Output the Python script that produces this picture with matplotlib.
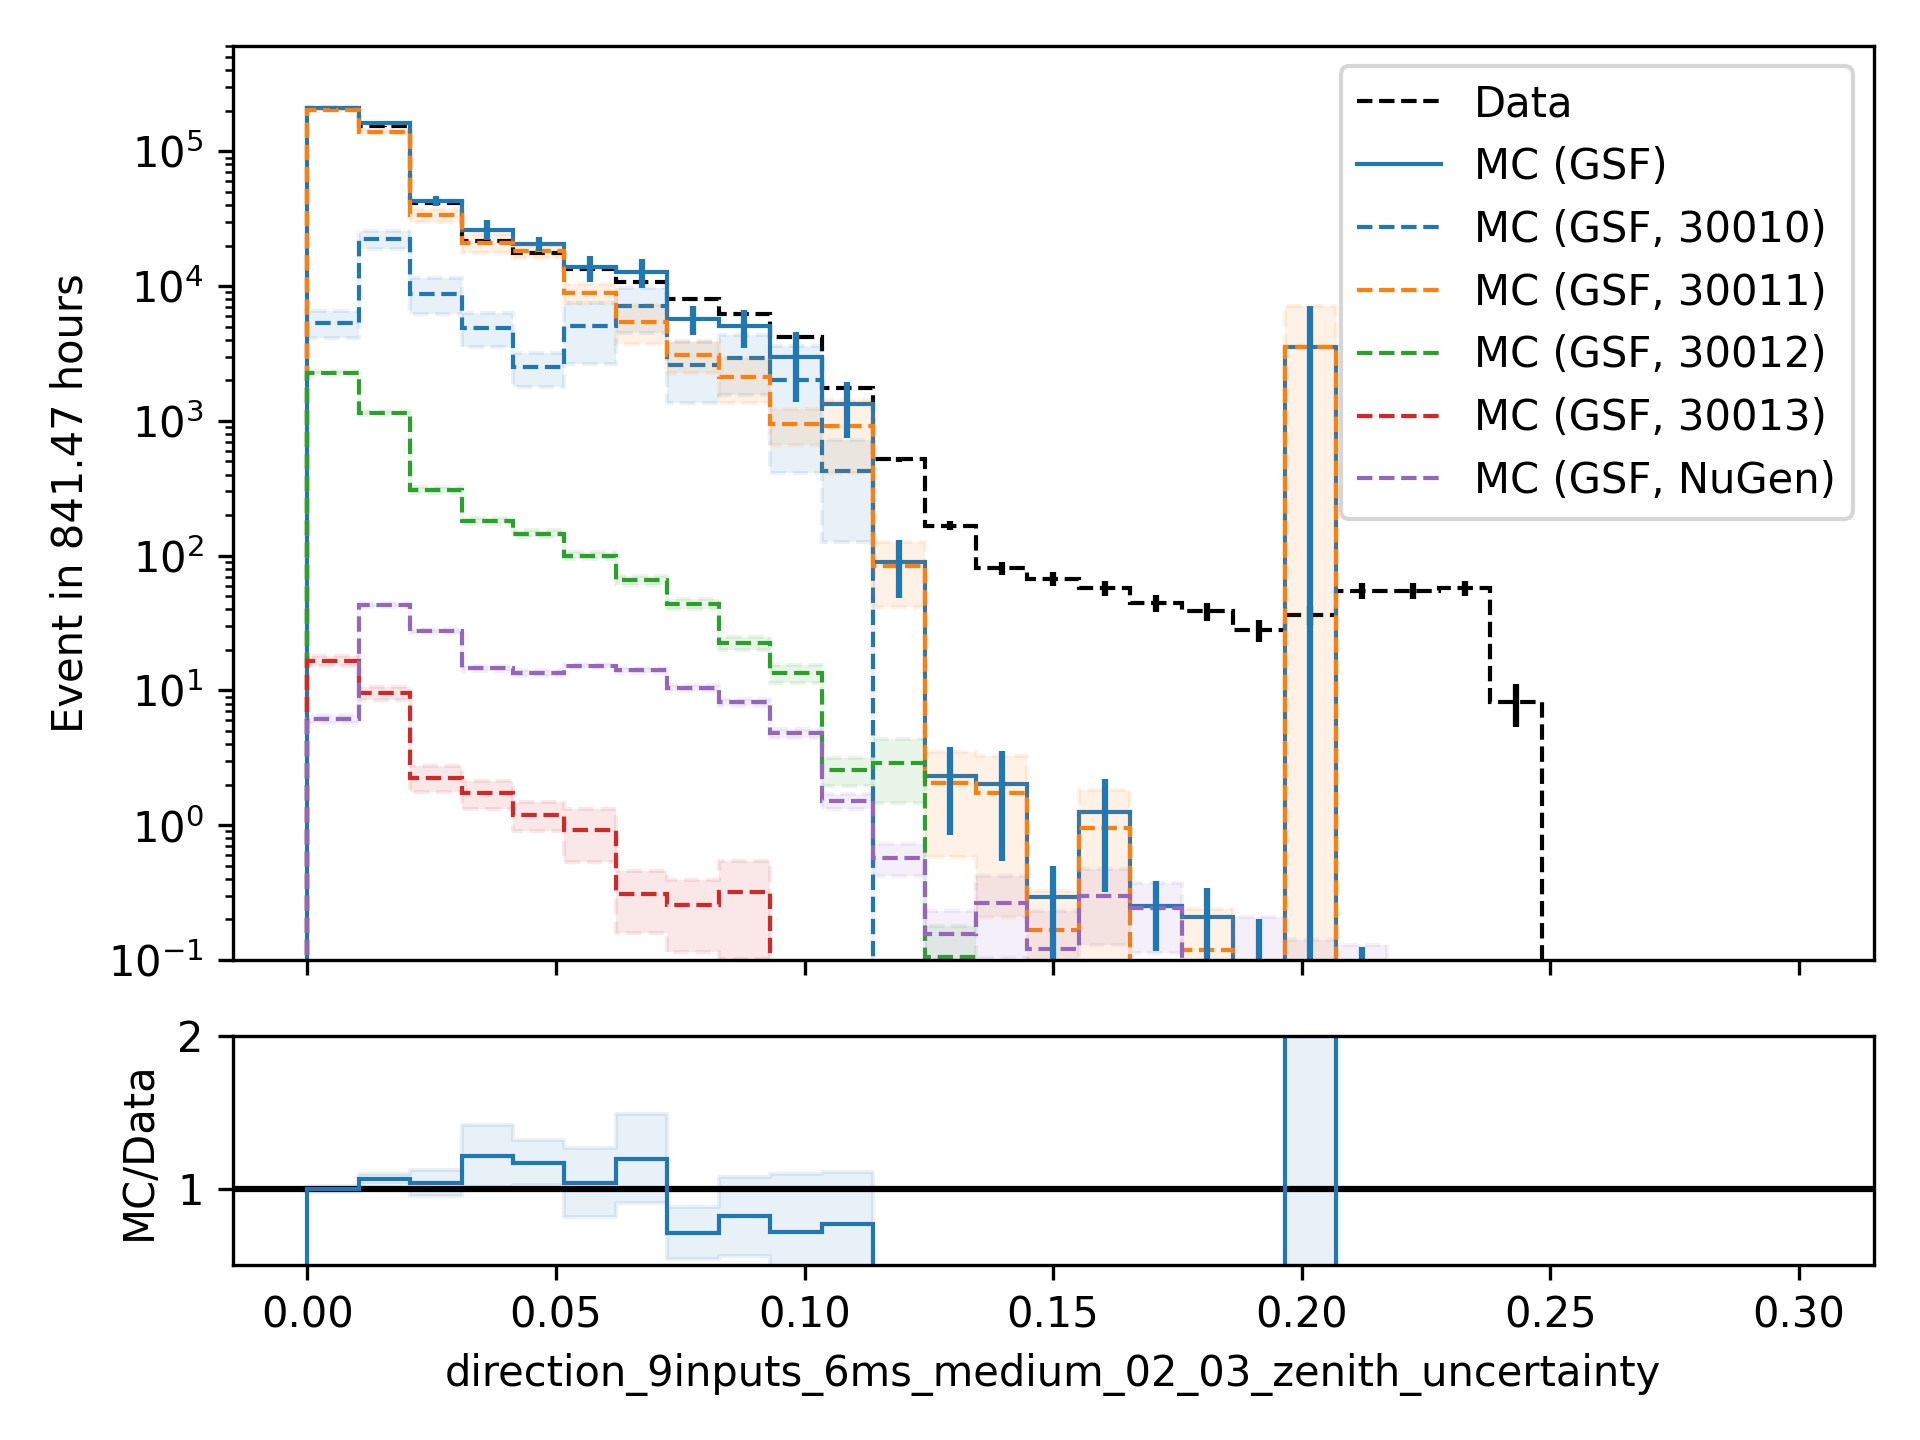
import numpy as np
import matplotlib
matplotlib.use('Agg')
import matplotlib.pyplot as plt

# binning of the zenith uncertainty (29 bins from 0 to 0.3)
edges = np.linspace(0, 0.3, 30)
centers = 0.5 * (edges[1:] + edges[:-1])

# event counts per bin
data = [2.09e5, 1.53e5, 4.15e4, 2.17e4, 1.77e4, 1.33e4, 1.07e4, 8.06e3, 6.17e3, 4.16e3,
        1.74e3, 520, 167, 81, 67.6, 57.7, 44.7, 38.7, 28.3, 36.6,
        55.1, 55.1, 57.7, 8.24] + [0] * 5
data_err = [457, 391, 204, 147, 133, 115, 103, 90, 79, 64,
            42, 23, 12.9, 9.0, 8.2, 7.6, 6.7, 6.2, 5.3, 6.0,
            7.4, 7.4, 7.6, 2.9] + [0] * 5

mc_gsf = [2.09e5, 1.63e5, 4.3e4, 2.63e4, 2.07e4, 1.38e4, 1.28e4, 5.7e3, 5.06e3, 2.97e3,
          1.34e3, 89.8, 2.32, 2.04, 0.296, 1.26, 0.25, 0.207, 0.07, 3.55e3,
          0.06] + [0] * 8
mc_gsf_err = [4e3, 5e3, 3.5e3, 4.4e3, 2.6e3, 3.0e3, 3.1e3, 1.37e3, 1.6e3, 1.58e3,
              590, 41, 1.47, 1.5, 0.2, 0.94, 0.133, 0.133, 0.13, 3.55e3,
              0.065] + [0] * 8

mc_30010 = [5.3e3, 2.22e4, 8.8e3, 4.92e3, 2.5e3, 5.06e3, 7.1e3, 2.6e3, 2.95e3, 2.01e3,
            427] + [0] * 18
err_30010 = [1.2e3, 3.3e3, 2.6e3, 1.4e3, 0.7e3, 2.4e3, 2.6e3, 1.24e3, 1.4e3, 1.6e3,
             300] + [0] * 18

mc_30011 = [2.02e5, 1.39e5, 3.36e4, 2.1e4, 1.82e4, 8.9e3, 5.45e3, 3.08e3, 2.13e3, 946,
            918, 84.3, 2.05, 1.74, 0.167, 0.95, 0, 0.119, 0, 3.55e3] + [0] * 9
err_30011 = [4e3, 4e3, 3.6e3, 3.3e3, 2e3, 1.4e3, 1.75e3, 830, 780, 280,
             510, 43, 1.47, 1.53, 0.16, 0.88, 0, 0.12, 0, 3.55e3] + [0] * 9

mc_30012 = [2.28e3, 1.14e3, 308, 182, 146, 100, 65.7, 43.9, 22.6, 13.4,
            2.55, 2.91, 0.105] + [0] * 16
err_30012 = [60, 40, 15, 10, 8, 6, 5, 4, 2.5, 2.1,
             0.6, 1.45, 0.075] + [0] * 16

mc_30013 = [16.5, 9.6, 2.25, 1.73, 1.2, 0.93, 0.308, 0.255, 0.321] + [0] * 20
err_30013 = [1.4, 1.1, 0.48, 0.4, 0.3, 0.4, 0.15, 0.14, 0.22] + [0] * 20

mc_nugen = [6.17, 43.3, 27.8, 14.6, 13.5, 15.2, 14.1, 10.4, 8.2, 4.8,
            1.52, 0.57, 0.156, 0.263, 0.12, 0.30, 0.243, 0, 0.07, 0.05,
            0.06] + [0] * 8
err_nugen = [0.45, 1.5, 1.0, 0.6, 0.6, 0.6, 0.6, 0.5, 0.5, 0.35,
             0.2, 0.15, 0.076, 0.16, 0.11, 0.17, 0.13, 0, 0.137, 0.09,
             0.07] + [0] * 8

components = [
    ('MC (GSF, 30010)', mc_30010, err_30010, 'C0'),
    ('MC (GSF, 30011)', mc_30011, err_30011, 'C1'),
    ('MC (GSF, 30012)', mc_30012, err_30012, 'C2'),
    ('MC (GSF, 30013)', mc_30013, err_30013, 'C3'),
    ('MC (GSF, NuGen)', mc_nugen, err_nugen, 'C4'),
]

fig = plt.figure(figsize=(6.4, 4.8), dpi=300)
ax = fig.add_axes([0.1212, 0.3333, 0.8546, 0.6351])
rax = fig.add_axes([0.1212, 0.1215, 0.8546, 0.1591])

# main panel
ax.stairs(data, edges, color='k', ls='--', lw=1, label='Data')
ax.errorbar(centers, data, yerr=data_err, fmt='none', ecolor='k')
ax.stairs(mc_gsf, edges, color='C0', lw=1, label='MC (GSF)')
ax.errorbar(centers, mc_gsf, yerr=mc_gsf_err, fmt='none', ecolor='C0')

for name, vals, errs, c in components:
    vals = np.asarray(vals, dtype=float)
    errs = np.asarray(errs, dtype=float)
    ax.stairs(vals, edges, color=c, ls='--', lw=1, label=name)
    lo = vals - errs
    hi = vals + errs
    ax.fill_between(edges, np.append(lo, lo[-1]), np.append(hi, hi[-1]),
                    step='post', color=c, alpha=0.1, linestyle='--')

ax.set_yscale('log')
ax.set_ylim(0.1, 6.1e5)
ax.set_xlim(-0.015, 0.315)
ax.set_ylabel('Event in 841.47 hours')
ax.tick_params(labelbottom=False)
ax.legend(loc='upper right')

# ratio panel
mc_arr = np.asarray(mc_gsf, dtype=float)
data_arr = np.asarray(data, dtype=float)
err_arr = np.asarray(mc_gsf_err, dtype=float)
ratio = np.divide(mc_arr, data_arr, out=np.zeros_like(mc_arr), where=data_arr > 0)
ratio_err = np.divide(err_arr, data_arr, out=np.zeros_like(mc_arr), where=data_arr > 0)

rax.axhline(1, color='k', lw=1.5, zorder=1.5)
rax.stairs(ratio, edges, color='C0', lw=1, zorder=2.5)
rlo = ratio - ratio_err
rhi = ratio + ratio_err
rax.fill_between(edges, np.append(rlo, rlo[-1]), np.append(rhi, rhi[-1]),
                 step='post', color='C0', alpha=0.1)
rax.set_ylim(0.5, 2)
rax.set_yticks([1, 2])
rax.set_xlim(-0.015, 0.315)
rax.set_xticks([0.0, 0.05, 0.10, 0.15, 0.20, 0.25, 0.30])
rax.set_ylabel('MC/Data')
rax.set_xlabel('direction_9inputs_6ms_medium_02_03_zenith_uncertainty')

fig.savefig('out.png', dpi=300)
